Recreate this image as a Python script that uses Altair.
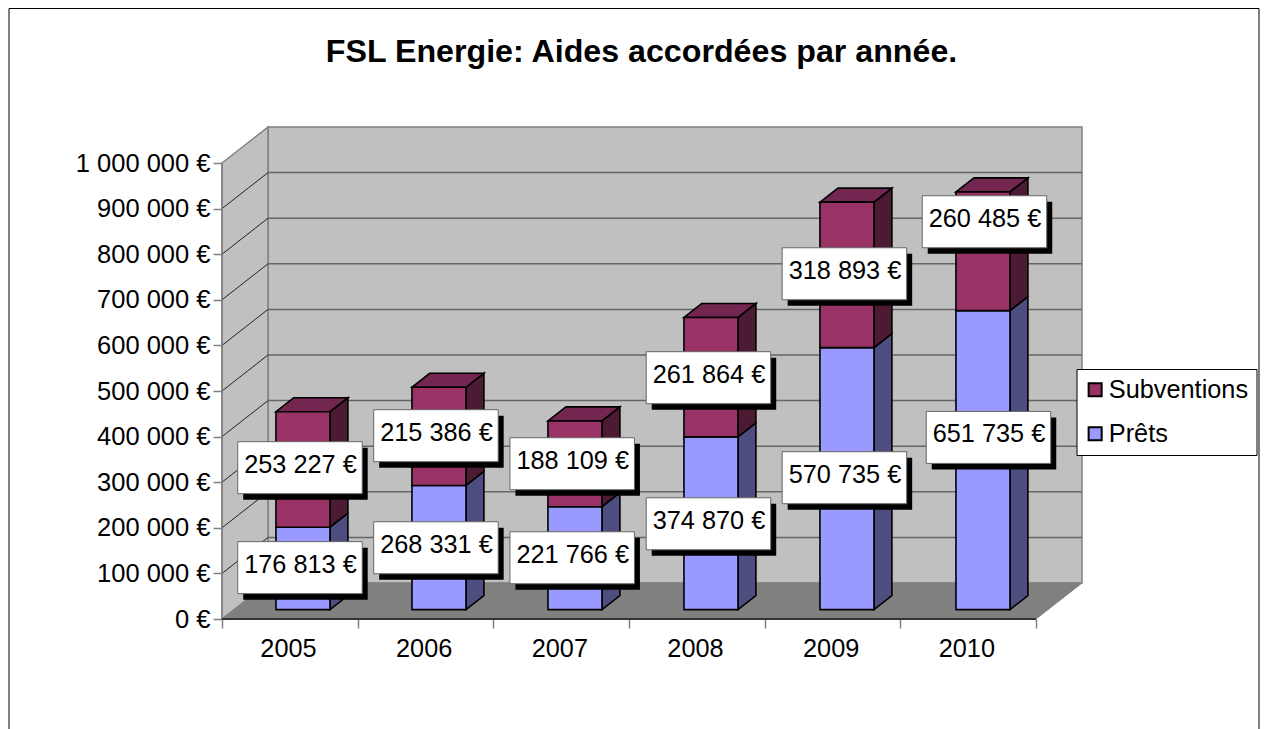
import altair as alt
import pandas as pd

# ---- data ----
years = [2005, 2006, 2007, 2008, 2009, 2010]
prets = [176813, 268331, 221766, 374870, 570735, 651735]
subventions = [253227, 215386, 188109, 261864, 318893, 260485]
series_names = ["Subventions", "Prêts"]
title_text = "FSL Energie: Aides accordées par année."

# ---- layout of the oblique projection ----
PX_PER_CAT = 814 / 6
PX_PER_VAL = 456 / 1e6
DEPTH_X = 46 / PX_PER_CAT       # wall depth, category units
DEPTH_Y = 36 / PX_PER_VAL       # wall depth, value units
D0, D1 = 0.26, 0.65             # bar front / back depth
BAR_L, BAR_R = 42 / PX_PER_CAT, 96 / PX_PER_CAT
BAR_STEP = 136 / PX_PER_CAT     # bars are spaced a little wider than the axis ticks
BAR_LIFT = 1.8 / PX_PER_VAL     # the 3D renderer draws segment tops slightly above their projected value
PLOT_W, PLOT_H = 861, 492
FONT = "Liberation Sans"
FS = 25.3

# label nudges (px) from the middle of each segment: the reference labels were placed by hand
nudge_x_sub = [-3, -2.7, -2.1, -1.5, -1.2, 3.2]
nudge_x_pre = [-3, -2.7, -2.1, -1.5, -1.2, 7.2]
nudge_y_sub = [3.6, 2.5, 1.9, 1.3, 2.9, 31.3]
nudge_y_pre = [1.7, 0.7, 1.3, 0.4, 1.8, 23.6]

COL = {
    "Subventions": dict(front="#993366", side="#4D1A33", top="#732650"),
    "Prêts": dict(front="#9999FF", side="#4D4D80", top="#7373BF"),
}


def euro(v):
    return f"{v:,d}".replace(",", " ") + " €"


def lifted(v):
    return v + BAR_LIFT if v > 0 else v


front_rows, side_rows, top_rows, label_rows = [], [], [], []
for i, yr in enumerate(years):
    xl, xr = i * BAR_STEP + BAR_L, i * BAR_STEP + BAR_R
    segs = [
        ("Prêts", 0, prets[i], nudge_x_pre[i], nudge_y_pre[i]),
        ("Subventions", prets[i], prets[i] + subventions[i], nudge_x_sub[i], nudge_y_sub[i]),
    ]
    for name, a, b, nx, ny in segs:
        front_rows.append(dict(series=name, x=xl + D0 * DEPTH_X, x2=xr + D0 * DEPTH_X,
                               y=lifted(a) + D0 * DEPTH_Y, y2=lifted(b) + D0 * DEPTH_Y))
        fid = f"{yr}-{name}"
        for d in (D0, D1):
            side_rows.append(dict(id=fid, fill=COL[name]["side"], x=xr + d * DEPTH_X,
                                  y=lifted(a) + d * DEPTH_Y, y2=lifted(b) + d * DEPTH_Y))
        label_rows.append(dict(
            text=euro(b - a),
            x=i + (BAR_L + BAR_R) / 2 + D0 * DEPTH_X + nx / PX_PER_CAT,
            y=(a + b) / 2 + D0 * DEPTH_Y + ny / PX_PER_VAL,
        ))
    top = lifted(prets[i] + subventions[i])
    for d in (D0, D1):
        top_rows.append(dict(id=str(yr), fill=COL["Subventions"]["top"],
                             x=xl + d * DEPTH_X, x2=xr + d * DEPTH_X, y=top + d * DEPTH_Y))

df_front = pd.DataFrame(front_rows)
df_side = pd.DataFrame(side_rows)
df_top = pd.DataFrame(top_rows)
df_label = pd.DataFrame(label_rows)

n_cat = len(years)
ticks = list(range(0, 1000001, 100000))

xs = alt.Scale(domain=[0, PLOT_W / PX_PER_CAT], nice=False, zero=False, padding=0)
ys = alt.Scale(domain=[0, PLOT_H / PX_PER_VAL], nice=False, zero=False, padding=0)
y_axis = alt.Axis(values=ticks, title=None, domain=False, grid=False, tickSize=9, tickColor="#808080",
                  tickWidth=1.5, labelFont=FONT, labelFontSize=25.5, labelColor="black", labelPadding=3,
                  labelExpr="replace(format(datum.value, ',d'), /,/g, ' ') + ' €'")
x_axis = alt.Axis(values=list(range(n_cat + 1)), title=None, domain=False, grid=False, tickSize=9,
                  tickColor="#808080", tickWidth=1.5, labelFont=FONT, labelFontSize=FS, labelColor="black",
                  labelPadding=8, labelOffset=66, labelAngle=0, labelOverlap=False, labelBound=False, labelFlush=False,
                  labelExpr=f"datum.value < {n_cat} ? '' + ({years[0]} + datum.value) : ''")
X = alt.X("x:Q", scale=xs, axis=x_axis, stack=None)
Y = alt.Y("y:Q", scale=ys, axis=y_axis, stack=None)
X2 = alt.X2("x2:Q")
Y2 = alt.Y2("y2:Q")

# walls and floor
back = alt.Chart(pd.DataFrame([dict(x=DEPTH_X, x2=n_cat + DEPTH_X, y=DEPTH_Y, y2=1e6 + DEPTH_Y)])).mark_rect(
    fill="#C0C0C0", stroke="#808080", strokeWidth=1.5).encode(x=X, x2=X2, y=Y, y2=Y2)
left = alt.Chart(pd.DataFrame([dict(x=0.0, y=0.0, y2=1e6), dict(x=DEPTH_X, y=DEPTH_Y, y2=1e6 + DEPTH_Y)])).mark_area(
    orient="vertical", fill="#C0C0C0", stroke="#808080", strokeWidth=1.5).encode(x=X, y=Y, y2=Y2)
floor = alt.Chart(pd.DataFrame([dict(x=0.0, x2=float(n_cat), y=0.0), dict(x=DEPTH_X, x2=n_cat + DEPTH_X, y=DEPTH_Y)])).mark_area(
    orient="horizontal", fill="#808080", stroke="#808080", strokeWidth=1).encode(x=X, x2=X2, y=Y)

# gridlines
grid_back = alt.Chart(pd.DataFrame([dict(x=DEPTH_X, x2=n_cat + DEPTH_X, y=v + DEPTH_Y) for v in ticks[1:-1]])).mark_rule(
    color="#666666", strokeWidth=1.5).encode(x=X, x2=X2, y=Y)
diag_rows = []
for v in ticks[1:-1]:
    diag_rows += [dict(id=v, x=0.0, y=float(v)), dict(id=v, x=DEPTH_X, y=v + DEPTH_Y)]
grid_left = alt.Chart(pd.DataFrame(diag_rows)).mark_line(color="#222222", strokeWidth=1).encode(
    x=X, y=Y, detail="id:N")

# axis lines
axis_df = pd.DataFrame(dict(x=[0.0], x2=[float(n_cat)], y=[0.0], y2=[1e6]))
x_line = alt.Chart(axis_df).mark_rule(color="#333333", strokeWidth=2).encode(x=X, x2=X2, y=Y)
y_line = alt.Chart(axis_df).mark_rule(color="#808080", strokeWidth=1.5).encode(x=X, y=Y, y2=Y2)

# bars
sides = alt.Chart(df_side).mark_area(orient="vertical", stroke="black", strokeWidth=1.6).encode(
    x=X, y=Y, y2=Y2, detail="id:N", fill=alt.Fill("fill:N", scale=None))
tops = alt.Chart(df_top).mark_area(orient="horizontal", stroke="black", strokeWidth=1.6).encode(
    x=X, x2=X2, y=Y, detail="id:N", fill=alt.Fill("fill:N", scale=None))
fronts = alt.Chart(df_front).mark_rect(stroke="black", strokeWidth=1.6).encode(
    x=X, x2=X2, y=Y, y2=Y2,
    fill=alt.Fill("series:N",
                  scale=alt.Scale(domain=series_names, range=[COL[s]["front"] for s in series_names]),
                  legend=alt.Legend(title=None, orient="none", legendX=854.5, legendY=242, fillColor="white",
                                    strokeColor="black", padding=8, rowPadding=18, symbolType="square",
                                    symbolSize=170, symbolStrokeColor="black", symbolStrokeWidth=2, symbolOffset=-2,
                                    labelFont=FONT, labelFontSize=FS, labelColor="black", labelOffset=1,
                                    labelLimit=300, values=series_names)))

# data labels
shadow = alt.Chart(df_label).mark_rect(width=124.5, height=52, fill="black", xOffset=5.5, yOffset=6).encode(x=X, y=Y)
box = alt.Chart(df_label).mark_rect(width=124.5, height=52, fill="white", stroke="#666666", strokeWidth=1).encode(x=X, y=Y)
text = alt.Chart(df_label).mark_text(font=FONT, fontSize=FS, color="black", baseline="middle", align="center",
                                     dx=0.5, dy=-3).encode(x=X, y=Y, text="text:N")

# chart frame, open at the bottom like the cropped reference
frame = alt.Chart(pd.DataFrame(dict(a=[0]))).mark_rect(fill="transparent", stroke="black", strokeWidth=1).encode(
    x=alt.value(-213), x2=alt.value(1037), y=alt.value(-118.5), y2=alt.value(612))

chart = alt.layer(
    frame, back, left, floor, grid_back, grid_left, y_line, x_line,
    sides, tops, fronts, shadow, box, text,
).properties(
    width=PLOT_W, height=PLOT_H, padding=0, background="white",
    title=alt.TitleParams(title_text, font=FONT, fontSize=32.2, fontWeight="bold", color="black",
                          anchor="middle", offset=-61, dx=-11),
).configure_view(stroke=None)

chart.save("out.html", embed_options={"renderer": "svg", "actions": False})
